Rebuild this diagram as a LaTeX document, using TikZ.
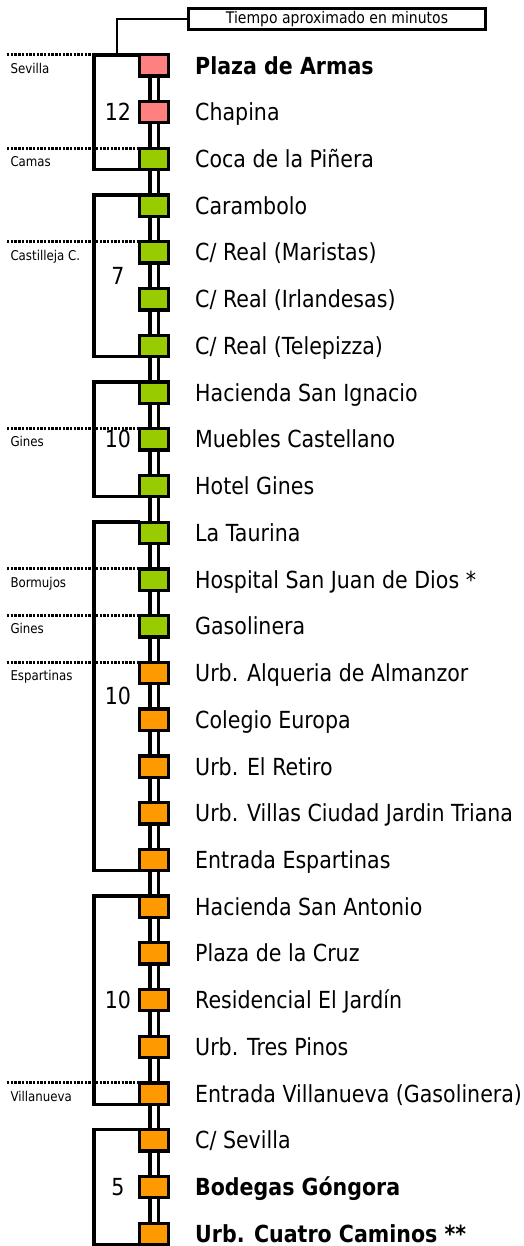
\documentclass[tikz,border=0pt]{standalone}
\usepackage{fontspec}
\setmainfont{DejaVu Sans}[FakeStretch=0.875]
\usetikzlibrary{positioning, backgrounds}

\definecolor{pinkstop}{HTML}{FF8080}
\definecolor{greenstop}{HTML}{99CC00}
\definecolor{orangestop}{HTML}{FF9900}

\tikzset{
  stop/.style={draw,line width=3.3pt,minimum width=28.5pt,minimum height=21.3pt,inner sep=0pt,outer sep=0pt},
  rail/.style={draw,line width=3.3pt,double=white,double distance=5pt},
  bracket/.style={line width=3.4pt},
  townline/.style={line width=3pt,dash pattern=on 2.4pt off 1.3pt},
  stn/.style={font=\fontsize{23.5}{28}\selectfont,inner sep=0pt,text height=17.1pt,text depth=0pt,anchor=west},
  mins/.style={font=\fontsize{23.5}{28}\selectfont,inner sep=0pt,text height=17.1pt,text depth=0pt},
  town/.style={font=\fontsize{13.5}{16}\selectfont,inner sep=0pt,text height=9.8pt,text depth=0pt,anchor=north west,xshift=2pt,yshift=-7pt},
  titlebox/.style={draw,line width=2.7pt,minimum width=297.3pt,minimum height=21.3pt,inner sep=0pt,font=\fontsize{16}{19}\selectfont}
}

\begin{document}
\begin{tikzpicture}[x=1pt,y=-1pt]
\useasboundingbox (0,0) rectangle (524,1246);

\draw (154,65.5)  node[stop,fill=pinkstop](s0){}    (195,65.5)  node[stn](n0){\textbf{Plaza de Armas}}
      (154,112.2) node[stop,fill=pinkstop](s1){}    (195,112.2) node[stn](n1){Chapina}
      (154,159.0) node[stop,fill=greenstop](s2){}   (195,159.0) node[stn](n2){Coca de la Piñera}
      (154,205.7) node[stop,fill=greenstop](s3){}   (195,205.7) node[stn](n3){Carambolo}
      (154,252.4) node[stop,fill=greenstop](s4){}   (195,252.4) node[stn](n4){C/ Real (Maristas)}
      (154,299.2) node[stop,fill=greenstop](s5){}   (195,299.2) node[stn](n5){C/ Real (Irlandesas)}
      (154,345.9) node[stop,fill=greenstop](s6){}   (195,345.9) node[stn](n6){C/ Real (Telepizza)}
      (154,392.6) node[stop,fill=greenstop](s7){}   (195,392.6) node[stn](n7){Hacienda San Ignacio}
      (154,439.3) node[stop,fill=greenstop](s8){}   (195,439.3) node[stn](n8){Muebles Castellano}
      (154,486.1) node[stop,fill=greenstop](s9){}   (195,486.1) node[stn](n9){Hotel Gines}
      (154,532.8) node[stop,fill=greenstop](s10){}  (195,532.8) node[stn](n10){La Taurina}
      (154,579.5) node[stop,fill=greenstop](s11){}  (195,579.5) node[stn](n11){Hospital San Juan de Dios *}
      (154,626.3) node[stop,fill=greenstop](s12){}  (195,626.3) node[stn](n12){Gasolinera}
      (154,673.0) node[stop,fill=orangestop](s13){} (195,673.0) node[stn](n13){Urb. Alqueria de Almanzor}
      (154,719.7) node[stop,fill=orangestop](s14){} (195,719.7) node[stn](n14){Colegio Europa}
      (154,766.5) node[stop,fill=orangestop](s15){} (195,766.5) node[stn](n15){Urb. El Retiro}
      (154,813.2) node[stop,fill=orangestop](s16){} (195,813.2) node[stn](n16){Urb. Villas Ciudad Jardin Triana}
      (154,859.9) node[stop,fill=orangestop](s17){} (195,859.9) node[stn](n17){Entrada Espartinas}
      (154,906.6) node[stop,fill=orangestop](s18){} (195,906.6) node[stn](n18){Hacienda San Antonio}
      (154,953.4) node[stop,fill=orangestop](s19){} (195,953.4) node[stn](n19){Plaza de la Cruz}
      (154,1000.1) node[stop,fill=orangestop](s20){} (195,1000.1) node[stn](n20){Residencial El Jardín}
      (154,1046.8) node[stop,fill=orangestop](s21){} (195,1046.8) node[stn](n21){Urb. Tres Pinos}
      (154,1093.6) node[stop,fill=orangestop](s22){} (195,1093.6) node[stn](n22){Entrada Villanueva (Gasolinera)}
      (154,1140.3) node[stop,fill=orangestop](s23){} (195,1140.3) node[stn](n23){C/ Sevilla}
      (154,1187.0) node[stop,fill=orangestop](s24){} (195,1187.0) node[stn](n24){\textbf{Bodegas Góngora}}
      (154,1233.8) node[stop,fill=orangestop](s25){} (195,1233.8) node[stn](n25){\textbf{Urb. Cuatro Caminos **}};

\begin{scope}[on background layer]
\fill[white] (0,0) rectangle (524,1246);
\end{scope}
\begin{scope}[on background layer,transform canvas={xshift=1.6pt}]
\path[every edge/.style=rail]
    (s0) edge (s1)    (s1) edge (s2)    (s2) edge (s3)    (s3) edge (s4)
    (s4) edge (s5)    (s5) edge (s6)    (s6) edge (s7)    (s7) edge (s8)
    (s8) edge (s9)    (s9) edge (s10)   (s10) edge (s11)  (s11) edge (s12)
    (s12) edge (s13)  (s13) edge (s14)  (s14) edge (s15)  (s15) edge (s16)
    (s16) edge (s17)  (s17) edge (s18)  (s18) edge (s19)  (s19) edge (s20)
    (s20) edge (s21)  (s21) edge (s22)  (s22) edge (s23)  (s23) edge (s24)
    (s24) edge (s25);
\end{scope}

% brackets with minutes
\coordinate (bx) at (94,0);
\draw[bracket] (s0.north west) -| (bx |- s1) |- (s2.south west);
\draw[bracket] (s3.north west) -| (bx |- s4) |- (s6.south west);
\draw[bracket] (s7.north west) -| (bx |- s8) |- (s9.south west);
\draw[bracket] (s10.north west) -| (bx |- s13) |- (s17.south west);
\draw[bracket] (s18.north west) -| (bx |- s20) |- (s22.south west);
\draw[bracket] (s23.north west) -| (bx |- s24) |- (s25.south west);

\draw (118,112.2) node[mins](m1){12}  (118,275.8) node[mins](m2){7}
      (118,439.3) node[mins](m3){10}  (118,696.4) node[mins](m4){10}
      (118,1000.1) node[mins](m5){10} (118,1187.0) node[mins](m6){5};

% towns
\coordinate (lm) at (7,0);
\draw[townline] (lm |- s0.north west) node[town](w0){Sevilla} -- (s0.north west);
\draw[townline] (lm |- s2.north west) node[town](w2){Camas} -- (s2.north west);
\draw[townline] (lm |- s4.north west) node[town](w4){Castilleja C.} -- (s4.north west);
\draw[townline] (lm |- s8.north west) node[town](w8){Gines} -- (s8.north west);
\draw[townline] (lm |- s11.north west) node[town](w11){Bormujos} -- (s11.north west);
\draw[townline] (lm |- s12.north west) node[town](w12){Gines} -- (s12.north west);
\draw[townline] (lm |- s13.north west) node[town](w13){Espartinas} -- (s13.north west);
\draw[townline] (lm |- s22.north west) node[town](w22){Villanueva} -- (s22.north west);

% title
\node[titlebox] (title) at (337,19) {Tiempo aproximado en minutos};
\coordinate (tick) at (117,54.9);
\draw[line width=1.1pt] (title.west) -| (tick);
\end{tikzpicture}
\end{document}
